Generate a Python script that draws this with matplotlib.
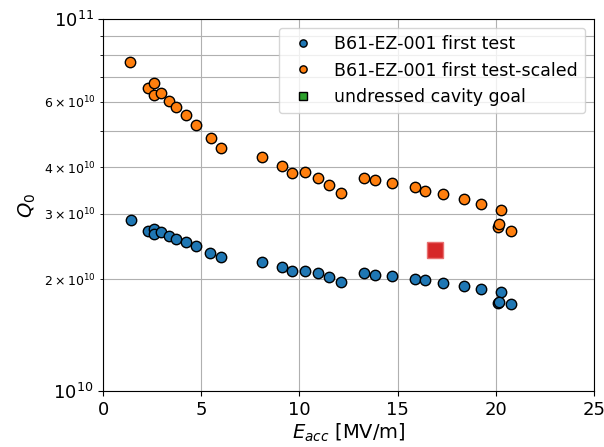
import numpy as np
import matplotlib.pyplot as plt
from matplotlib.lines import Line2D

# first test
e_acc = [1.43, 2.28, 2.56, 2.56, 2.92, 3.33, 3.72, 4.21, 4.72, 5.45, 6.01,
         8.10, 9.13, 9.62, 10.28, 10.93, 11.51, 12.10, 13.27, 13.87, 14.71,
         15.89, 16.38, 17.33, 18.38, 19.26, 20.28, 20.11, 20.18, 20.77]
q0 = [2.88e10, 2.70e10, 2.73e10, 2.65e10, 2.68e10, 2.62e10, 2.57e10, 2.52e10,
      2.46e10, 2.35e10, 2.29e10, 2.22e10, 2.15e10, 2.10e10, 2.11e10, 2.08e10,
      2.03e10, 1.96e10, 2.08e10, 2.05e10, 2.04e10, 2.00e10, 1.99e10, 1.95e10,
      1.92e10, 1.88e10, 1.85e10, 1.73e10, 1.74e10, 1.71e10]

# scaled
e_acc_s = [1.37, 2.26, 2.57, 2.57, 2.92, 3.33, 3.73, 4.23, 4.72, 5.47, 6.01,
           8.10, 9.13, 9.62, 10.28, 10.93, 11.51, 12.10, 13.27, 13.87, 14.71,
           15.89, 16.38, 17.33, 18.38, 19.26, 20.28, 20.11, 20.18, 20.77]
q0_s = [7.66e10, 6.55e10, 6.72e10, 6.27e10, 6.35e10, 6.04e10, 5.79e10, 5.51e10,
        5.21e10, 4.78e10, 4.50e10, 4.26e10, 4.03e10, 3.86e10, 3.88e10, 3.75e10,
        3.59e10, 3.40e10, 3.75e10, 3.70e10, 3.62e10, 3.53e10, 3.46e10, 3.38e10,
        3.28e10, 3.19e10, 3.07e10, 2.77e10, 2.81e10, 2.69e10]

goal_x = [16.9]
goal_y = [2.40e10]

fig, ax = plt.subplots(figsize=(6.04, 4.47), dpi=100)
fig.subplots_adjust(left=0.171, right=0.983, top=0.957, bottom=0.125)

ax.plot(e_acc, q0, 'o', color='tab:blue', mec='k', ms=7.5, label="B61-EZ-001 first test")
ax.plot(e_acc_s, q0_s, 'o', color='tab:orange', mec='k', ms=7.5, label="B61-EZ-001 first test-scaled")
ax.plot(goal_x, goal_y, 's', color='tab:red', mec='#e87070', ms=12)

ax.set_yscale('log')
ax.set_xlim(0, 25)
ax.set_ylim(1e10, 1e11)
ax.grid(True, which='both')

ax.set_xlabel("$E_{acc}$ [MV/m]", fontsize=14, labelpad=2)
ax.set_ylabel("$Q_0$", fontsize=14)
ax.tick_params(axis='both', which='major', labelsize=13)
ax.tick_params(axis='y', which='minor', labelsize=9)

handles, labels = ax.get_legend_handles_labels()
handles.append(Line2D([], [], marker='s', color='tab:green', mec='k', ls='none', ms=7.5))
labels.append("undressed cavity goal")
ax.legend(handles, labels, loc='upper right', fontsize=12.5, markerscale=0.7)

plt.savefig("out.png", dpi=100)
